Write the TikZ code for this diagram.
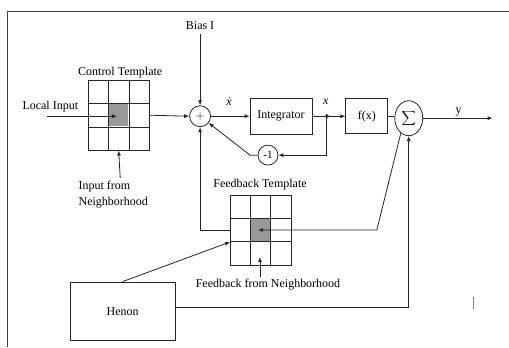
\documentclass[tikz,border=0pt]{standalone}
\usepackage{fontspec}
\setmainfont{Liberation Serif}
\usetikzlibrary{arrows.meta,calc,shapes.geometric}
\begin{document}
\begin{tikzpicture}[x=1pt,y=-1pt,
  line width=0.8pt,
  every path/.style={draw=black!85},
  lbl/.style={font=\fontsize{12}{14}\selectfont, inner sep=0pt},
  blk/.style={draw=black!85, rectangle, inner sep=0pt, font=\fontsize{12}{14}\selectfont},
  grid3/.style={draw=black!85, rectangle, inner sep=0pt, minimum width=61pt, minimum height=70pt},
  arr/.style={-{Latex[length=5pt,width=4pt]}},
  sumc/.style={draw=black!85, circle, inner sep=0pt, minimum size=21pt, font=\fontsize{12}{14}\selectfont},
  shade/.style={fill=black!40, draw=none},
]
\useasboundingbox (0,0) rectangle (509,347);
\fill[white, draw=none] (0,0) rectangle (509,347);
\draw[line width=1.6pt, draw=black!75] (509,11) -- (7,11) -- (7,347);

% control template grid
\node[grid3] (ct) at (118.5,115) {};
\fill[shade] ($(ct.north west)+(20.33,23.33)$) rectangle ($(ct.north west)+(40.67,46.67)$);
\foreach \f in {1,2} {
  \draw ($(ct.north west)!\f/3!(ct.north east)$) -- ($(ct.south west)!\f/3!(ct.south east)$);
  \draw ($(ct.north west)!\f/3!(ct.south west)$) -- ($(ct.north east)!\f/3!(ct.south east)$);
}
\node[lbl] (ctl) at (120,72) {Control Template};

% feedback template grid
\node[grid3] (fb) at (260.5,230) {};
\fill[shade] ($(fb.north west)+(20.33,23.33)$) rectangle ($(fb.north west)+(40.67,46.67)$);
\foreach \f in {1,2} {
  \draw ($(fb.north west)!\f/3!(fb.north east)$) -- ($(fb.south west)!\f/3!(fb.south east)$);
  \draw ($(fb.north west)!\f/3!(fb.south west)$) -- ($(fb.north east)!\f/3!(fb.south east)$);
}
\node[lbl] (fbl) at (260,185) {Feedback Template};

% labels
\node[lbl] (li) at (50,106) {Local Input};
\coordinate (listart) at (47,116);
\coordinate (licenter) at (117,116);
\node[lbl, anchor=west] (inf1) at (78,186) {Input from};
\node[lbl, anchor=west] (inf2) at (78,203) {Neighborhood};
\coordinate (inarr) at (120,178);
\node[lbl] (bias) at (200,25) {Bias I};
\node[lbl] (fbn) at (268,285) {Feedback from Neighborhood};
\coordinate (fbnarr) at (260,277);
\coordinate (fbntip) at (260,257);

% blocks
\node[sumc] (sum) at (200,116) {$+$};
\node[blk, minimum width=62pt, minimum height=36pt] (int) at (281,116) {Integrator};
\node[blk, minimum width=42pt, minimum height=35pt] (fx) at (367,116) {f(x)};
\node[draw=black!85, ellipse, minimum width=28pt, minimum height=35pt, inner sep=0pt] (sig) at (409,118) {$\displaystyle\sum$};
\node[sumc, minimum size=20pt, font=\fontsize{11}{13}\selectfont] (neg) at (268,155) {-1};
\node[blk, minimum width=105pt, minimum height=59pt] (hen) at (122.5,311.5) {Henon};

\node[lbl] (xd) at (229,101) {\itshape ẋ};
\node[lbl] (xl) at (326,102) {\itshape x};
\node[lbl] (yl) at (459,112) {y};

% connectors
\draw[arr] (listart) -- (licenter);
\draw[arr] (inarr) -- (ct.south);
\draw[arr] (bias.south) ++(0,4) -- (sum.north);
\draw[arr] (ct.east) -- (sum.west);
\draw[arr] (sum.east) -- (int.west);
\coordinate (jx) at (327,116);
\draw (int.east) -- (jx);
\fill[black!85] (jx) circle (1.6pt);
\draw[arr] (jx) -- (fx.west);
\draw[arr] (jx) -- (327,155) -- (neg.east);
\draw[arr] (neg.west) -- (250,155) -- (sum.-38);
\draw (fx.east) -- (sig.west |- fx.east);
\coordinate (yend) at (493,118);
\draw[arr] (sig.east) -- (yend);
\draw[arr] (fb.west) -| (sum.south);
\coordinate (bend) at (377,230);
\coordinate (fbtip) at (258,230);
\draw[arr] (sig.-118) -- (bend) -- (fbtip);
\coordinate (henin) at (230,242);
\draw[arr] (hen.north) -- (henin);
\draw[arr] ([yshift=4.5pt]hen.east) -| (sig.south);
\draw[arr] (fbnarr) -- (fbntip);

% stray mark
\draw[line width=0.6pt, draw=black!50] (474,297) -- (474,309);
\end{tikzpicture}
\end{document}
